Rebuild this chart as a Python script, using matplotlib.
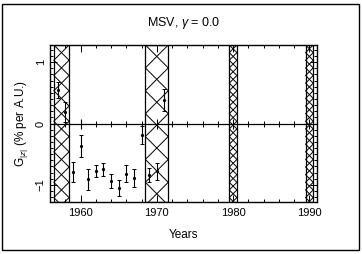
import numpy as np
import matplotlib
matplotlib.use("Agg")
import matplotlib.pyplot as plt
from matplotlib.patches import Rectangle

# Data
years = [1957, 1958, 1959, 1960, 1961, 1962, 1963, 1964,
         1965, 1966, 1967, 1968, 1969, 1970, 1971]
g_vals = [0.55, 0.19, -0.79, -0.37, -0.91, -0.78, -0.75, -0.94,
          -1.05, -0.82, -0.89, -0.19, -0.84, -0.78, 0.38]
g_errs = [0.13, 0.16, 0.17, 0.18, 0.17, 0.10, 0.10, 0.11,
          0.13, 0.14, 0.15, 0.15, 0.12, 0.14, 0.18]

# Excluded (hatched) intervals
band_start = [1956.5, 1968.5, 1979.5, 1989.5]
band_end = [1958.5, 1971.5, 1980.5, 1990.5]

plt.rcParams['font.family'] = ['Liberation Sans', 'DejaVu Sans']
plt.rcParams['mathtext.fontset'] = 'custom'
plt.rcParams['mathtext.rm'] = 'Liberation Sans'
plt.rcParams['mathtext.it'] = 'Liberation Sans:italic'

fig = plt.figure(figsize=(3.62, 2.54), dpi=100)
ax = fig.add_axes([50 / 362, 1 - 202 / 254, 267 / 362, 157 / 254])
xmin, xmax, ymin, ymax = 1956, 1991, -1.28, 1.28
ax.set_xlim(xmin, xmax)
ax.set_ylim(ymin, ymax)

# pixel scales, used to draw 45 degree zigzags inside the bands
p0 = ax.transData.transform((xmin, 0))
p1 = ax.transData.transform((xmax, 1))
sx = (p1[0] - p0[0]) / (xmax - xmin)
sy = p1[1] - p0[1]

for x0, x1 in zip(band_start, band_end):
    ax.add_patch(Rectangle((x0, ymin), x1 - x0, ymax - ymin, fill=False,
                           edgecolor='black', lw=0.9, zorder=3))
    dy = (x1 - x0) * sx / sy
    n = int(np.ceil((ymax - ymin) / dy)) + 1
    ys = ymax - dy * np.arange(n)
    xa = np.where(np.arange(n) % 2 == 0, x0, x1)
    xb = np.where(np.arange(n) % 2 == 0, x1, x0)
    ax.plot(xa, ys, color='black', lw=0.7, zorder=3)
    ax.plot(xb, ys, color='black', lw=0.7, zorder=3)

ax.axhline(0, color='black', lw=0.9, zorder=2)
# ticks along the zero line
zt = np.arange(1958, 1991, 2)
ax.plot(zt, np.zeros(len(zt)), ls='none', marker='|', ms=4,
        color='black', mew=0.7, zorder=2)
ax.plot([1960, 1970, 1980, 1990], [0, 0, 0, 0],
        ls='none', marker='|', ms=7, color='black', mew=0.8, zorder=2)

ax.errorbar(years, g_vals, yerr=g_errs, fmt='o', ms=1.3, color='black',
            ecolor='black', elinewidth=0.8, capsize=1.2, capthick=0.7, zorder=4)

ax.set_xticks([1960, 1970, 1980, 1990])
ax.set_xticks(np.arange(1956, 1992, 2), minor=True)
ax.set_yticks([-1, 0, 1])
ax.set_yticklabels(['\u22121', '0', '1'], rotation=90, va='center')
ax.set_yticks(np.arange(-1.2, 1.25, 0.1), minor=True)
ax.tick_params(which='both', direction='in', top=True, right=True,
               labelsize=8, width=0.7)
ax.tick_params(which='major', length=5, pad=4)
ax.tick_params(which='minor', length=2.5)
ax.tick_params(axis='y', pad=3)
for s in ax.spines.values():
    s.set_linewidth(1.0)

ax.set_title('MSV, $\\gamma$ = 0.0', fontsize=9, pad=14)
ax.set_xlabel('Years', fontsize=8.5, labelpad=8)
ax.set_ylabel('$\\mathrm{G}_{|z|}$ (% per A.U.)', fontsize=8.5, labelpad=4)

fig.patches.append(Rectangle((2 / 362, 4 / 254), 357 / 362, 246 / 254,
                             transform=fig.transFigure, fill=False,
                             edgecolor='black', lw=1.0))

fig.savefig('out.png', dpi=100)
